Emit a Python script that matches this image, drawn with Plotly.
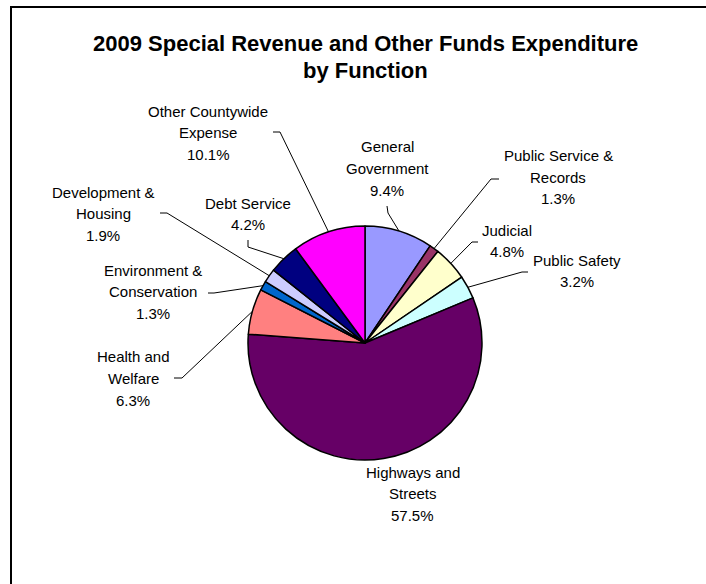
import math
import plotly.graph_objects as go

# ---- data -------------------------------------------------------------
categories = [
    "General Government", "Public Service & Records", "Judicial", "Public Safety",
    "Highways and Streets", "Health and Welfare", "Environment & Conservation",
    "Development & Housing", "Debt Service", "Other Countywide Expense",
]
shares = [9.4, 1.3, 4.8, 3.2, 57.5, 6.3, 1.3, 1.9, 4.2, 10.1]
label_lines = [
    ["General", "Government"], ["Public Service &", "Records"], ["Judicial"],
    ["Public Safety"], ["Highways and", "Streets"], ["Health and", "Welfare"],
    ["Environment &", "Conservation"], ["Development &", "Housing"],
    ["Debt Service"], ["Other Countywide", "Expense"],
]
colors = [
    "#9999FF", "#993366", "#FFFFCC", "#CCFFFF", "#660066",
    "#FF8080", "#0066CC", "#CCCCFF", "#000080", "#FF00FF",
]
title_lines = ["2009 Special Revenue and Other Funds Expenditure", "by Function"]

# ---- layout (pixels) --------------------------------------------------
W, H = 706, 584
CX, CY, R = 365, 343, 117
LINE_GAP = 21.5
FONT = "Liberation Sans, Arial, sans-serif"

# label centre x, first-line y, leader points from label side toward the slice
label_pos = {
    "General Government": (387, 147, [(387, 206), (388, 213)]),
    "Public Service & Records": (558, 156, [(499, 179), (491, 179)]),
    "Judicial": (507, 230, [(478, 242), (472, 242)]),
    "Public Safety": (577, 260, [(528, 272), (522, 272)]),
    "Highways and Streets": (413, 472, None),
    "Health and Welfare": (133, 357, [(174, 378), (182, 378)]),
    "Environment & Conservation": (153, 270, [(208, 293), (214, 293)]),
    "Development & Housing": (103, 192, [(160, 213), (167, 213)]),
    "Debt Service": (248, 203, [(248, 240), (248, 247)]),
    "Other Countywide Expense": (208, 111, [(273, 132), (280, 132)]),
}


def px(x):
    return x / W


def py(y):
    return 1 - y / H


fig = go.Figure(
    go.Pie(
        labels=categories,
        values=shares,
        sort=False,
        direction="clockwise",
        rotation=0,
        marker=dict(colors=colors, line=dict(color="black", width=1.5)),
        textinfo="none",
        hoverinfo="label+percent",
        domain=dict(x=[px(CX - R), px(CX + R)], y=[py(CY + R), py(CY - R)]),
        showlegend=False,
    )
)

annotations = []
shapes = []
total = sum(shares)
cum = 0.0
for name, val, lines in zip(categories, shares, label_lines):
    mid = (cum + val / 2) / total * 2 * math.pi
    cum += val
    ax = CX + R * math.sin(mid)
    ay = CY - R * math.cos(mid)
    lx, ly, leader = label_pos[name]
    text_rows = lines + [f"{val:.1f}%"]
    for i, row in enumerate(text_rows):
        annotations.append(dict(
            x=px(lx), y=py(ly + i * LINE_GAP), xref="paper", yref="paper",
            text=row, showarrow=False, xanchor="center", yanchor="middle",
            font=dict(family=FONT, size=15, color="#000000"),
        ))
    if leader:
        pts = leader + [(ax, ay)]
        for (x0, y0), (x1, y1) in zip(pts[:-1], pts[1:]):
            shapes.append(dict(
                type="line", xref="paper", yref="paper",
                x0=px(x0), y0=py(y0), x1=px(x1), y1=py(y1),
                line=dict(color="black", width=1),
            ))

# chart title
for i, row in enumerate(title_lines):
    annotations.append(dict(
        x=px(365), y=py(44 + i * 27), xref="paper", yref="paper",
        text=f"<b>{row}</b>", showarrow=False, xanchor="center", yanchor="middle",
        font=dict(family=FONT, size=22, color="#000000"),
    ))

# chart-area frame
shapes.append(dict(
    type="rect", xref="paper", yref="paper",
    x0=px(11), y0=py(7), x1=px(W + 20), y1=py(H + 20),
    line=dict(color="black", width=2), fillcolor="rgba(0,0,0,0)",
))

fig.update_layout(
    width=W, height=H,
    margin=dict(l=0, r=0, t=0, b=0),
    paper_bgcolor="white", plot_bgcolor="white",
    annotations=annotations, shapes=shapes,
)

fig.write_html("out.html")
